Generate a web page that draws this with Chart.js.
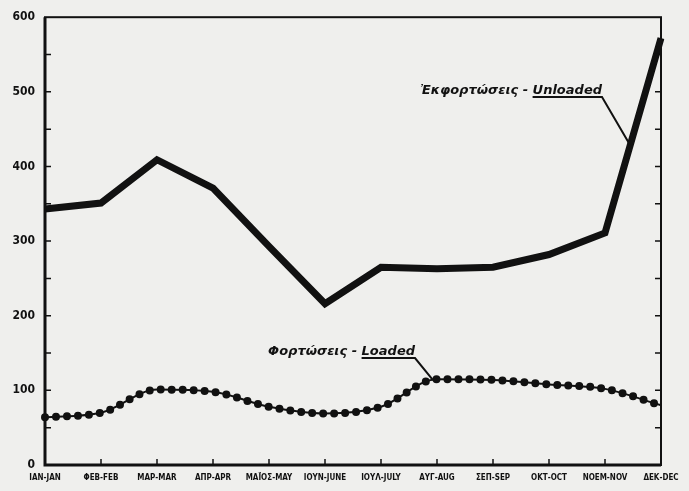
<!DOCTYPE html>
<html>
<head>
<meta charset="utf-8">
<script src="https://cdn.jsdelivr.net/npm/chart.js@4.4.1/dist/chart.umd.min.js"></script>
<style>
  html, body { margin: 0; padding: 0; background: #efefed; }
  #wrap { width: 689px; height: 491px; }
</style>
</head>
<body>
<div id="wrap"><canvas id="chart" width="689" height="491"></canvas></div>
<script>
// months (greek - english) as printed under the axis
const months = ['ΙΑΝ-JAN', 'ΦΕΒ-FEB', 'ΜΑΡ-MAR', 'ΑΠΡ-APR', 'ΜΑΪΟΣ-MAY', 'ΙΟΥΝ-JUNE',
                'ΙΟΥΛ-JULY', 'ΑΥΓ-AUG', 'ΣΕΠ-SEP', 'ΟΚΤ-OCT', 'ΝΟΕΜ-NOV', 'ΔΕΚ-DEC'];
const unloaded = [343, 351, 409, 371, 293, 216, 265, 263, 265, 282, 311, 572];
const loaded = [64, 70, 101, 98, 78, 69, 78, 115, 114, 108, 102, 80];
const yMin = 0, yMax = 600, yStep = 100, minorStep = 50;

const ink = '#111';
const tickFont = { family: '"DejaVu Sans Condensed", "DejaVu Sans", sans-serif', weight: 'bold' };

// frame, inward ticks and the two labels with their leader lines
const decor = {
    id: 'decor',
    afterDatasetsDraw(chart) {
        const ctx = chart.ctx;
        const a = chart.chartArea;
        const x = chart.scales.x, y = chart.scales.y;
        ctx.save();
        ctx.strokeStyle = ink;
        ctx.lineCap = 'butt';

        // box
        ctx.lineWidth = 2;
        ctx.strokeRect(a.left, a.top, a.right - a.left, a.bottom - a.top);
        ctx.lineWidth = 3;
        ctx.beginPath();
        ctx.moveTo(a.left, a.top);
        ctx.lineTo(a.left, a.bottom);
        ctx.lineTo(a.right, a.bottom);
        ctx.stroke();

        // inward ticks every 50 on both sides
        ctx.lineWidth = 1.5;
        for (let v = yMin + minorStep; v < yMax; v += minorStep) {
            const py = y.getPixelForValue(v);
            ctx.beginPath();
            ctx.moveTo(a.left, py); ctx.lineTo(a.left + 6, py);
            ctx.moveTo(a.right, py); ctx.lineTo(a.right - 6, py);
            ctx.stroke();
        }
        // small month ticks on the base line
        for (let i = 1; i < months.length - 1; i++) {
            const px = x.getPixelForValue(i);
            ctx.beginPath();
            ctx.moveTo(px, a.bottom); ctx.lineTo(px, a.bottom - 6);
            ctx.stroke();
        }

        ctx.fillStyle = ink;
        ctx.textBaseline = 'alphabetic';
        ctx.font = 'italic bold 13px "DejaVu Sans", sans-serif';

        // Unloaded label
        const u1 = chart.getDatasetMeta(0).data[10], u2 = chart.getDatasetMeta(0).data[11];
        const uEnd = { x: u1.x + (u2.x - u1.x) * 0.45, y: u1.y + (u2.y - u1.y) * 0.45 };
        drawLabel(ctx, 'Ἐκφορτώσεις - ', 'Unloaded', 602, 94, uEnd);

        // Loaded label
        const l = chart.getDatasetMeta(1).data[7];
        drawLabel(ctx, 'Φορτώσεις - ', 'Loaded', 415, 355, { x: l.x - 4, y: l.y + 1 });

        ctx.restore();
    }
};

function drawLabel(ctx, greek, english, rightX, baseY, end) {
    const wEn = ctx.measureText(english).width;
    const wGr = ctx.measureText(greek).width;
    ctx.textAlign = 'left';
    ctx.fillText(greek, rightX - wEn - wGr, baseY);
    ctx.fillText(english, rightX - wEn, baseY);
    ctx.lineWidth = 2;
    ctx.beginPath();
    ctx.moveTo(rightX - wEn, baseY + 3);
    ctx.lineTo(rightX, baseY + 3);
    ctx.lineTo(end.x, end.y);
    ctx.stroke();
}

new Chart(document.getElementById('chart').getContext('2d'), {
    type: 'line',
    data: {
        labels: months,
        datasets: [{
            label: 'Unloaded',
            data: unloaded,
            borderColor: ink,
            borderWidth: 7,
            borderJoinStyle: 'miter',
            tension: 0,
            pointRadius: 0
        }, {
            label: 'Loaded',
            data: loaded,
            borderColor: ink,
            borderWidth: 2,
            cubicInterpolationMode: 'monotone',
            pointRadius: 0
        }, {
            // the beaded dots along the loaded curve
            label: 'Loaded dots',
            data: loaded,
            borderColor: ink,
            borderWidth: 8,
            borderDash: [0, 11],
            borderCapStyle: 'round',
            cubicInterpolationMode: 'monotone',
            pointRadius: 0
        }]
    },
    options: {
        responsive: false,
        animation: false,
        layout: { padding: { top: 15, right: 28, left: 0, bottom: 0 } },
        plugins: {
            legend: { display: false },
            tooltip: { enabled: false }
        },
        scales: {
            x: {
                offset: false,
                grid: { display: false, drawTicks: false },
                border: { display: false },
                ticks: {
                    autoSkip: false,
                    maxRotation: 0,
                    padding: 8,
                    color: ink,
                    font: { ...tickFont, size: 8 }
                },
                afterFit(s) { s.height = 26; }
            },
            y: {
                min: yMin,
                max: yMax,
                grid: { display: false, drawTicks: false },
                border: { display: false },
                ticks: {
                    stepSize: yStep,
                    padding: 10,
                    color: ink,
                    font: { ...tickFont, size: 12 }
                },
                afterFit(s) { s.width = 45; }
            }
        }
    },
    plugins: [decor]
});
</script>
</body>
</html>
